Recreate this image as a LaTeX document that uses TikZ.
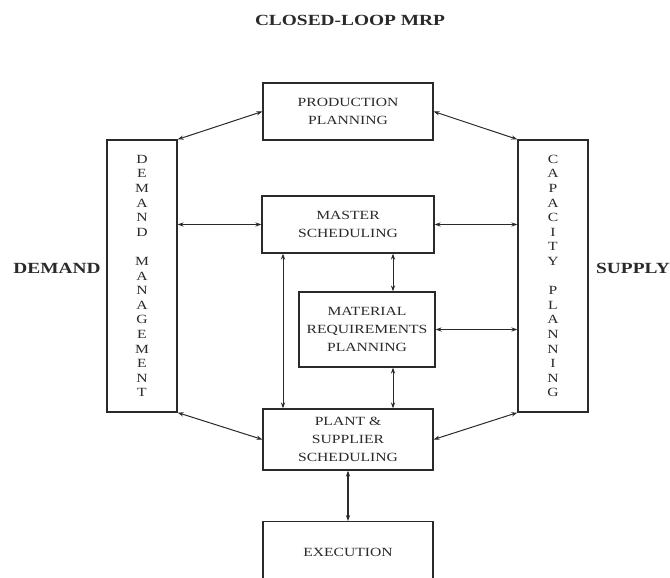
\documentclass[tikz,border=0pt]{standalone}
\usepackage{fontspec}
\setmainfont{Liberation Serif}
\newfontfamily\boxfont{Liberation Serif}[FakeStretch=1.25]
\usetikzlibrary{arrows.meta}
\definecolor{ink}{HTML}{2A2A2A}
\begin{document}
\begin{tikzpicture}[x=1pt,y=-1pt,
  box/.style={draw=ink, line width=1.2pt, rectangle, inner sep=0pt,
    align=center, text=ink, font=\boxfont\fontsize{12.5}{18}\selectfont},
  vbox/.style={box, font=\boxfont\fontsize{12.5}{14.6}\selectfont},
  lbl/.style={text=ink, inner sep=0pt, font=\boxfont\fontsize{12.5}{18}\selectfont},
  side/.style={text=ink, inner sep=0pt, font=\boxfont\bfseries\fontsize{15.5}{18}\selectfont},
  arr/.style={draw=ink, line width=1pt, {Stealth[length=6pt,width=4.2pt]}-{Stealth[length=6pt,width=4.2pt]}}]
\useasboundingbox (0,0) rectangle (670,578);
\clip (0,0) rectangle (670,578);
\fill[white] (0,0) rectangle (670,578);

% title and side labels
\node[side] (title) at (350,20) {CLOSED-LOOP MRP};
\node[side] (demand) at (57,268) {DEMAND};
\node[side] (supply) at (633,268) {SUPPLY};

% planning boxes
\node[box, minimum width=170pt, minimum height=57pt] (pp) at (348,111.5) {PRODUCTION\\PLANNING};
\node[vbox, minimum width=70pt, minimum height=272pt] (dm) at (142,276)
  {D\\E\\M\\A\\N\\D\\\strut\\M\\A\\N\\A\\G\\E\\M\\E\\N\\T};
\node[vbox, minimum width=70pt, minimum height=272pt] (cp) at (553,276)
  {C\\A\\P\\A\\C\\I\\T\\Y\\\strut\\P\\L\\A\\N\\N\\I\\N\\G};
\node[box, minimum width=172pt, minimum height=57pt] (ms) at (348,224.5) {MASTER\\SCHEDULING};
\node[box, minimum width=136pt, minimum height=75pt] (mrp) at (367,329.5) {MATERIAL\\REQUIREMENTS\\PLANNING};
\node[box, minimum width=170pt, minimum height=61pt] (pss) at (348,439.5) {PLANT \&\\SUPPLIER\\SCHEDULING};
\node[box, anchor=north, minimum width=170pt, minimum height=90pt] (ex) at (348,521) {};
\node[lbl] (extext) at (348,552) {EXECUTION};

% connector columns
\coordinate (vx) at (393,0);
\coordinate (lx) at (283,0);

% connectors
\draw[arr] (dm.north east) -- (pp.west);
\draw[arr] (pp.east) -- (cp.north west);
\draw[arr] (dm.east |- ms.west) -- (ms.west);
\draw[arr] (ms.east) -- (cp.west |- ms.east);
\draw[arr] (vx |- ms.south) -- (vx |- mrp.north);
\draw[arr] (mrp.east) -- (cp.west |- mrp.east);
\draw[arr] (vx |- mrp.south) -- (vx |- pss.north);
\draw[arr] (lx |- ms.south) -- (lx |- pss.north);
\draw[arr] (dm.south east) -- (pss.west);
\draw[arr] (cp.south west) -- (pss.east);
\draw[arr, line width=1.8pt] (pss.south) -- (ex.north);
\end{tikzpicture}
\end{document}
